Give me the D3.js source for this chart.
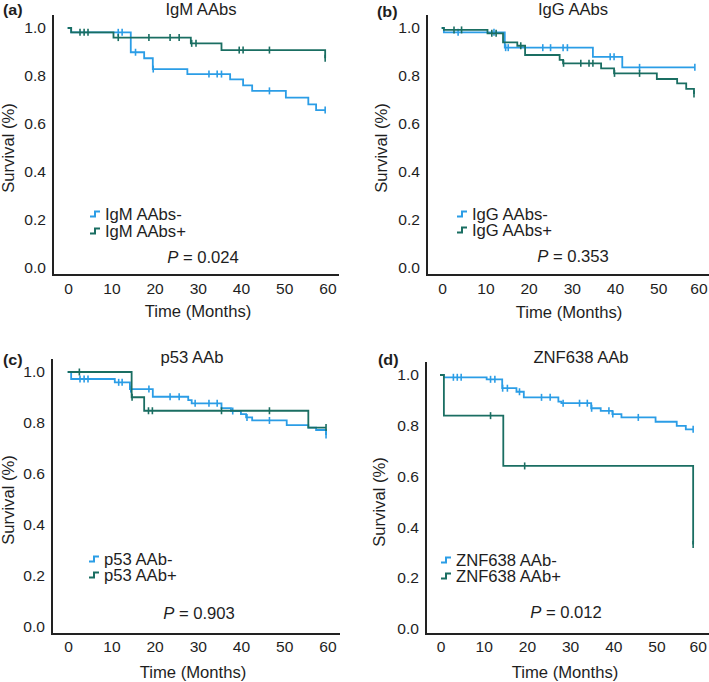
<!DOCTYPE html>
<html>
<head>
<meta charset="utf-8">
<script src="https://cdn.jsdelivr.net/npm/d3@7"></script>
<style>
  html, body { margin: 0; padding: 0; background: #fff; }
  svg { display: block; font-family: "Liberation Sans", Arial, Helvetica, sans-serif; }
</style>
</head>
<body>
<svg id="chart" width="709" height="682"></svg>
<script>
// ---------------- DATA ----------------
const timeTicks = [0, 10, 20, 30, 40, 50, 60];
const survivalTicks = [0.0, 0.2, 0.4, 0.6, 0.8, 1.0];
const panelLetters = ["(a)", "(b)", "(c)", "(d)"];
const panelTitles = ["IgM AAbs", "IgG AAbs", "p53 AAb", "ZNF638 AAb"];
const legendNeg = ["IgM AAbs-", "IgG AAbs-", "p53 AAb-", "ZNF638 AAb-"];
const legendPos = ["IgM AAbs+", "IgG AAbs+", "p53 AAb+", "ZNF638 AAb+"];
const pValues = ["0.024", "0.353", "0.903", "0.012"];

// (a) IgM
const igmNegEventT = [0.8, 14.6, 17.7, 19.7, 27.7, 37.6, 40.6, 42.7, 50.5, 55.7, 57.5];
const igmNegEventS = [0.982, 0.899, 0.874, 0.829, 0.808, 0.786, 0.761, 0.738, 0.710, 0.682, 0.658];
const igmNegCensor = [11.7, 12.6, 15.7, 19.8, 32.7, 34.6, 35.6, 46.7, 59.6];
const igmPosEventT = [0.8, 10.6, 28.5, 35.6, 59.6];
const igmPosEventS = [0.982, 0.960, 0.936, 0.908, 0.874];
const igmPosCensor = [2.85, 3.8, 4.7, 11.7, 18.8, 23.7, 25.8, 28.7, 29.7, 39.7, 40.6, 46.7, 59.6];

// (b) IgG
const iggNegEventT = [0.5, 14.6, 35.0, 41.8];
const iggNegEventS = [0.982, 0.918, 0.880, 0.836];
const iggNegCensor = [3.8, 12.1, 14.8, 15.4, 23.4, 25.2, 28.1, 29.1, 39.0, 39.9, 45.8, 58.6];
const iggPosEventT = [0.5, 10.6, 14.2, 17.5, 19.3, 27.3, 28.1, 36.9, 39.9, 49.8, 54.5, 56.6, 58.4];
const iggPosEventS = [0.992, 0.978, 0.940, 0.926, 0.8875, 0.867, 0.853, 0.832, 0.811, 0.7875, 0.7695, 0.746, 0.725];
const iggPosCensor = [2.85, 4.6, 11.6, 12.6, 18.3, 28.2, 32.2, 34.1, 35.0, 40.0, 45.8, 58.4];

// (c) p53
const p53NegEventT = [0.8, 10.9, 14.4, 19.7, 27.9, 28.7, 35.6, 37.8, 40.1, 41.3, 42.7, 50.7, 55.7, 57.5, 59.8];
const p53NegEventS = [0.9725, 0.9595, 0.933, 0.903, 0.890, 0.877, 0.858, 0.847, 0.835, 0.822, 0.810, 0.792, 0.782, 0.7725, 0.753];
const p53NegCensor = [2.85, 3.8, 4.7, 11.8, 12.6, 14.6, 18.8, 23.7, 25.8, 29.5, 32.7, 34.6, 38.2, 41.5, 46.7, 59.8];
const p53PosEventT = [14.8, 17.7, 55.7];
const p53PosEventS = [0.901, 0.848, 0.782];
const p53PosCensor = [2.7, 14.9, 18.7, 19.6, 35.6, 46.7, 59.8];

// (d) ZNF638
const znfNegEventT = [0.9, 10.8, 14.4, 17.7, 19.4, 27.4, 28.1, 35.0, 37.2, 39.9, 42.0, 49.9, 54.8, 56.9];
const znfNegEventS = [0.991, 0.983, 0.948, 0.934, 0.912, 0.895, 0.889, 0.869, 0.859, 0.846, 0.833, 0.816, 0.800, 0.786];
const znfNegCensor = [3.1, 4.0, 4.9, 11.7, 12.7, 14.5, 15.6, 18.4, 23.5, 25.5, 28.5, 32.3, 34.1, 35.1, 39.1, 40.0, 45.9, 58.6];
const znfPosEventT = [0.9, 14.65, 58.6];
const znfPosEventS = [0.840, 0.642, 0.333];
const znfPosCensor = [11.7, 19.6, 58.6];

const colorNeg = "#2b9de6";
const colorPos = "#1a6e62";

// ---------------- LAYOUT ----------------
const panels = [
  { axisX: 53, top: 15, bottom: 275, right: 339, xr: [67.7, 326.9], yr: [268, 28],
    letter: [3, 10], title: [201, 9], ylab: [8, 148], xlab: [198, 311], tickY: 289, lastTickShift: 0,
    legX: 90, legY: [214, 231], pPos: [203, 257],
    neg: [igmNegEventT, igmNegEventS, igmNegCensor], pos: [igmPosEventT, igmPosEventS, igmPosCensor] },
  { axisX: 427, top: 15, bottom: 275, right: 709, xr: [441.7, 700.9], yr: [268, 28],
    letter: [377, 12], title: [573, 9], ylab: [381, 148], xlab: [569, 312], tickY: 289, lastTickShift: -3,
    legX: 457, legY: [214, 230], pPos: [573, 256],
    neg: [iggNegEventT, iggNegEventS, iggNegCensor], pos: [iggPosEventT, iggPosEventS, iggPosCensor] },
  { axisX: 52, top: 359, bottom: 634, right: 340, xr: [67.7, 326.9], yr: [627, 372],
    letter: [3, 360], title: [192, 357], ylab: [8, 500], xlab: [193, 672], tickY: 647, lastTickShift: 0,
    legX: 89, legY: [559, 575], pPos: [199, 613],
    neg: [p53NegEventT, p53NegEventS, p53NegCensor], pos: [p53PosEventT, p53PosEventS, p53PosCensor] },
  { axisX: 426, top: 362, bottom: 634, right: 709, xr: [440, 699.2], yr: [629, 375],
    letter: [378, 360], title: [581, 357], ylab: [379, 502], xlab: [565, 672], tickY: 647, lastTickShift: -2,
    legX: 441, legY: [560, 576], pPos: [566, 612],
    neg: [znfNegEventT, znfNegEventS, znfNegCensor], pos: [znfPosEventT, znfPosEventS, znfPosCensor] }
];

const svg = d3.select("#chart");
const textColor = "#1e1e1e";
const SX = 1.04;

function txt(g, x, y, str, size, anchor, opts = {}) {
  const t = g.append("text")
    .attr("transform", `translate(${x},${y})` + (opts.rotate ? ` rotate(${opts.rotate})` : "") + ` scale(${SX},1)`)
    .attr("text-anchor", anchor)
    .attr("dy", "0.35em")
    .attr("font-size", size)
    .attr("fill", textColor);
  if (opts.bold) t.attr("font-weight", "bold");
  if (str !== null) t.text(str);
  return t;
}

function kmPoints(T, S, censor) {
  const pts = [[0, 1]];
  let s = 1;
  T.forEach((t, i) => { pts.push([t, s]); s = S[i]; pts.push([t, s]); });
  const end = Math.max(T[T.length - 1], d3.max(censor));
  pts.push([end, s]);
  return pts;
}
function survAt(T, S, t) {
  let s = 1;
  T.forEach((tt, i) => { if (tt <= t) s = S[i]; });
  return s;
}

panels.forEach((p, i) => {
  const g = svg.append("g");
  const x = d3.scaleLinear().domain([0, 60]).range(p.xr);
  const y = d3.scaleLinear().domain([0, 1]).range(p.yr);

  // axes lines
  g.append("line").attr("x1", p.axisX).attr("x2", p.axisX).attr("y1", p.top).attr("y2", p.bottom + 1)
    .attr("stroke", "#222").attr("stroke-width", 2);
  g.append("line").attr("x1", p.axisX - 1).attr("x2", p.right).attr("y1", p.bottom).attr("y2", p.bottom)
    .attr("stroke", "#222").attr("stroke-width", 2);

  // tick labels
  survivalTicks.forEach(v => txt(g, p.axisX - 7, y(v), d3.format(".1f")(v), 15, "end"));
  timeTicks.forEach((v, k) => txt(g, x(v) + 1 + (k === timeTicks.length - 1 ? p.lastTickShift : 0),
    p.tickY, String(v), 15, "middle"));

  // titles / labels
  txt(g, p.letter[0], p.letter[1], panelLetters[i], 15.5, "start", { bold: true });
  txt(g, p.title[0], p.title[1], panelTitles[i], 16, "middle");
  txt(g, p.ylab[0], p.ylab[1], "Survival (%)", 16, "middle", { rotate: -90 });
  txt(g, p.xlab[0], p.xlab[1], "Time (Months)", 16, "middle");

  // curves
  const line = d3.line().x(d => x(d[0])).y(d => y(d[1]));
  [[p.neg, colorNeg], [p.pos, colorPos]].forEach(([ser, col]) => {
    const [T, S, C] = ser;
    g.append("path").attr("d", line(kmPoints(T, S, C)))
      .attr("fill", "none").attr("stroke", col).attr("stroke-width", 1.8);
    g.selectAll(null).data(C).enter().append("line")
      .attr("x1", d => x(d)).attr("x2", d => x(d))
      .attr("y1", d => y(survAt(T, S, d)) - 3.5).attr("y2", d => y(survAt(T, S, d)) + 3.5)
      .attr("stroke", col).attr("stroke-width", 1.6);
  });

  // legend
  [[legendNeg[i], colorNeg, p.legY[0]], [legendPos[i], colorPos, p.legY[1]]].forEach(([lab, col, ly]) => {
    const lx = p.legX;
    g.append("path")
      .attr("d", `M${lx},${ly + 2.5}H${lx + 5}V${ly - 2.5}H${lx + 10}`)
      .attr("fill", "none").attr("stroke", col).attr("stroke-width", 2);
    txt(g, lx + 15, ly, lab, 16, "start");
  });

  // p value
  const pt = txt(g, p.pPos[0], p.pPos[1], null, 16, "middle");
  pt.append("tspan").attr("font-style", "italic").text("P");
  pt.append("tspan").text(" = " + pValues[i]);
});
</script>
</body>
</html>
